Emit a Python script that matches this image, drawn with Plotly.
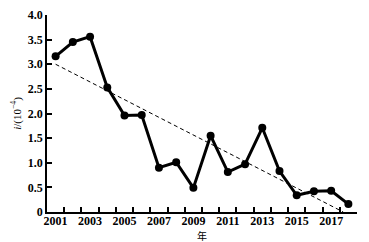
import plotly.graph_objects as go

years = list(range(2001, 2019))
values = [3.16, 3.45, 3.56, 2.53, 1.96, 1.97, 0.90, 1.01, 0.49, 1.55,
          0.81, 0.97, 1.71, 0.83, 0.34, 0.42, 0.43, 0.16]
trend_x = [2001, 2017.7]
trend_y = [3.0, 0.0]
x_tickvals = [2001, 2003, 2005, 2007, 2009, 2011, 2013, 2015, 2017]
x_ticktext = [str(v) for v in x_tickvals]
x_tickmarks = [y + 0.5 for y in range(2000, 2019)]
y_tickvals = [0, 0.5, 1.0, 1.5, 2.0, 2.5, 3.0, 3.5, 4.0]
y_ticktext = ["0", "0.5", "1.0", "1.5", "2.0", "2.5", "3.0", "3.5", "4.0"]
x_title = "年"

font_family = "Liberation Serif"
xrange = [2000.5, 2018.5]

fig = go.Figure()
fig.add_trace(go.Scatter(x=trend_x, y=trend_y, mode="lines",
                         line=dict(color="black", width=1, dash="4px,3px"),
                         hoverinfo="skip", showlegend=False))
fig.add_trace(go.Scatter(x=years, y=values, mode="lines+markers",
                         line=dict(color="black", width=3),
                         marker=dict(color="black", size=8),
                         showlegend=False))
# invisible trace to activate the label axis
fig.add_trace(go.Scatter(x=[years[0]], y=[values[0]], xaxis="x2", mode="markers",
                         marker=dict(opacity=0), hoverinfo="skip", showlegend=False))

fig.add_annotation(text=x_title, xref="paper", yref="paper", x=0.5, y=0,
                   yshift=-23, xanchor="center", yanchor="middle", showarrow=False,
                   font=dict(size=10, family="Noto Sans CJK SC", color="black"))

fig.update_layout(
    width=369, height=242,
    margin=dict(l=47, r=12, t=15, b=30),
    paper_bgcolor="white", plot_bgcolor="white",
    font=dict(family=font_family, color="black"),
    xaxis=dict(range=xrange, tickvals=x_tickmarks, showticklabels=False,
               ticks="inside", ticklen=5, tickcolor="black", tickwidth=1.5,
               showgrid=False, zeroline=False, automargin=False,
               showline=True, linecolor="black", linewidth=1.5),
    xaxis2=dict(range=xrange, overlaying="x", anchor="y", side="bottom",
                tickvals=x_tickvals, ticktext=x_ticktext, ticks="",
                tickfont=dict(size=12, weight="bold"), automargin=False,
                showgrid=False, zeroline=False, showline=False),
    yaxis=dict(range=[0, 4.0], tickvals=y_tickvals, ticktext=y_ticktext,
               ticks="inside", ticklen=5, tickcolor="black", tickwidth=1.5,
               showgrid=False, zeroline=False, automargin=False,
               showline=True, linecolor="black", linewidth=1.5,
               tickfont=dict(size=12, weight="bold"),
               title=dict(text="<i>i</i>/(10<sup>−4</sup>)", font=dict(size=11), standoff=4)),
)

fig.write_html("out.html")
